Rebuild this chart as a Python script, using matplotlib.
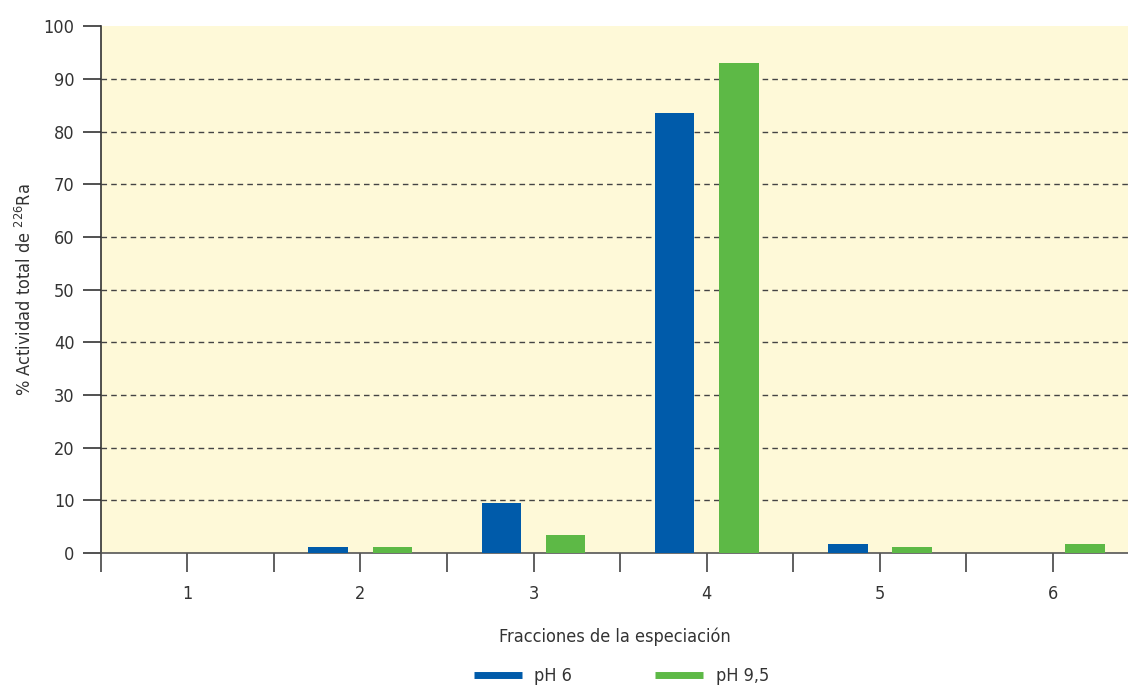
import numpy as np
import matplotlib
matplotlib.use("Agg")
import matplotlib.pyplot as plt
from matplotlib.lines import Line2D

plt.rcParams["font.family"] = ["DejaVu Sans"]
plt.rcParams["font.stretch"] = "condensed"

fracciones = [1, 2, 3, 4, 5, 6]
ph6 = [0.0, 1.2, 9.5, 83.5, 1.8, 0.0]
ph95 = [0.0, 1.2, 3.5, 93.0, 1.2, 1.8]
series_labels = ["pH 6", "pH 9,5"]

BLUE = "#005BAA"
GREEN = "#5DB946"
TXT = "#333333"

fig = plt.figure(figsize=(11.28, 6.88), dpi=100)
ax = fig.add_axes([0.0895, 0.196, 1 - 0.0895, 0.766])
ax.set_facecolor("#FEF9D8")

x = np.array(fracciones, dtype=float)
w = 0.231
ax.bar(x - 0.185, ph6, width=w, color=BLUE, zorder=3)
ax.bar(x + 0.185, ph95, width=w, color=GREEN, zorder=3)

ax.set_ylim(0, 100)
ax.set_xlim(0.5, 6.436)
ax.set_yticks(range(0, 101, 10))
ax.set_xticks(fracciones)
ax.set_xticks(np.arange(0.5, 6.5, 1.0), minor=True)
for yv in range(10, 100, 10):
    ax.axhline(yv, color="#444444", lw=1, ls=(0, (4, 3)), zorder=1)

for s in ["top", "right"]:
    ax.spines[s].set_visible(False)
ax.spines["left"].set_color("#333333")
ax.spines["bottom"].set_color("#555555")
ax.spines["left"].set_linewidth(1.2)
ax.spines["bottom"].set_linewidth(1.2)

ax.tick_params(axis="y", direction="out", length=13, width=1.2, color="#333333",
               labelsize=13, labelcolor=TXT, pad=6)
ax.tick_params(axis="x", which="both", direction="out", length=14, width=1.2,
               color="#444444", labelsize=13, labelcolor=TXT, pad=6)
ax.tick_params(axis="x", which="major", pad=-8)
for lbl in ax.get_xticklabels():
    lbl.set_y(-0.044)

ax.set_xlabel("Fracciones de la especiación", fontsize=13, color=TXT, labelpad=18)
ax.set_ylabel("% Actividad total de $^{226}$Ra", fontsize=13, color=TXT, labelpad=6)

handles = [Line2D([], [], color=BLUE, lw=5, solid_capstyle="butt"),
           Line2D([], [], color=GREEN, lw=5, solid_capstyle="butt")]
fig.legend(handles, series_labels, loc="center", bbox_to_anchor=(0.551, 0.017),
           ncol=2, frameon=False, fontsize=13, handlelength=2.65, handletextpad=0.7,
           columnspacing=4.6, labelcolor=TXT)

fig.savefig("out.png", dpi=100)
